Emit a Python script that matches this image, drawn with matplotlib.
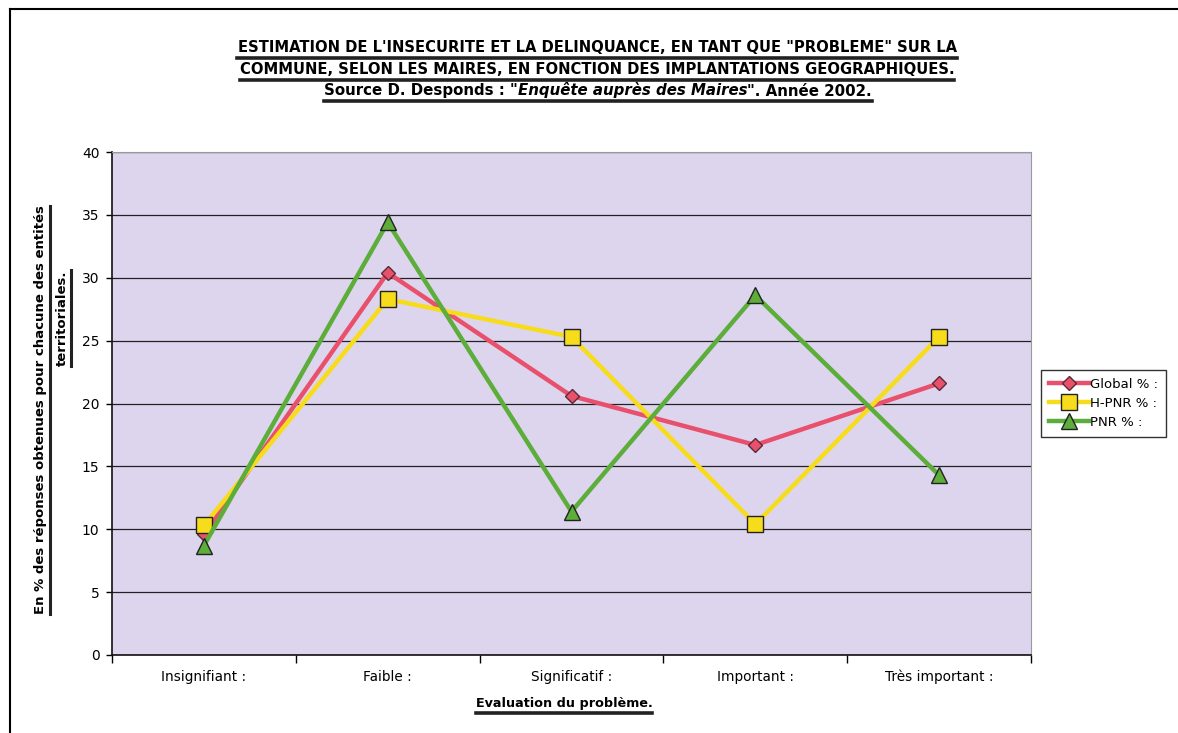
import matplotlib
matplotlib.use("Agg")
import matplotlib.pyplot as plt
from matplotlib.lines import Line2D

# data
categories = ["Insignifiant :", "Faible :", "Significatif :", "Important :", "Très important :"]
global_pct = [9.6, 30.4, 20.6, 16.7, 21.6]
hpnr_pct = [10.3, 28.3, 25.3, 10.4, 25.3]
pnr_pct = [8.7, 34.4, 11.4, 28.6, 14.3]
yticks = [0, 5, 10, 15, 20, 25, 30, 35, 40]

plt.rcParams['font.family'] = ['DejaVu Sans']

fig = plt.figure(figsize=(11.78, 7.33), dpi=100)
W, H = 1178, 733
ax = fig.add_axes([112 / W, 1 - 655 / H, (1031 - 112) / W, (655 - 152) / H])
ax.set_facecolor('#ddd5ee')

x = range(len(categories))
ax.plot(x, global_pct, color='#e8506c', lw=3.2, marker='D', ms=7,
        mfc='#e8506c', mec='#5a2a35', mew=1, label='Global % :')
ax.plot(x, hpnr_pct, color='#f7dc1c', lw=3.2, marker='s', ms=11,
        mfc='#f7dc1c', mec='#222222', mew=1, label='H-PNR % :')
ax.plot(x, pnr_pct, color='#5cad3a', lw=3.2, marker='^', ms=11,
        mfc='#5cad3a', mec='#222222', mew=1, label='PNR % :')

ax.set_xlim(-0.5, len(categories) - 0.5)
ax.set_ylim(0, 40)
ax.set_yticks(yticks)
ax.yaxis.grid(True, color='#222222', lw=0.9)
ax.set_axisbelow(True)
ax.set_xticks(list(x))
ax.set_xticklabels(categories, fontsize=9.8, va='baseline')
ax.set_xticks([i - 0.5 for i in range(len(categories) + 1)], minor=True)
ax.tick_params(axis='x', which='major', length=0, pad=19)
ax.tick_params(axis='x', which='minor', length=6, width=1, direction='out')
ax.tick_params(axis='y', length=4, width=1, direction='out', labelsize=10, pad=5)
for s in ['left', 'bottom']:
    ax.spines[s].set_color('#111111')
    ax.spines[s].set_linewidth(1.2)
for s in ['top', 'right']:
    ax.spines[s].set_color('#9a9a9a')
    ax.spines[s].set_linewidth(0.8)

leg = ax.legend(loc='center left', bbox_to_anchor=(1.004, 0.5), fontsize=9.5,
                frameon=True, fancybox=False, edgecolor='black', handlelength=3.0,
                borderpad=0.6, labelspacing=0.45, handletextpad=0.1)
leg.get_frame().set_linewidth(1.0)

# page frame (left and top edges only)
fig.add_artist(Line2D([10 / W, 10 / W], [0, 1 - 9 / H], color='black', lw=1.5))
fig.add_artist(Line2D([10 / W, 1], [1 - 9 / H, 1 - 9 / H], color='black', lw=1.5))

# titles and labels (baselines placed as in the reference)
t1 = fig.text(597 / W, 1 - 52 / H,
              "ESTIMATION DE L'INSECURITE ET LA DELINQUANCE, EN TANT QUE \"PROBLEME\" SUR LA",
              ha='center', va='baseline', fontsize=10.6, fontweight='bold')
t2 = fig.text(597 / W, 1 - 74.5 / H,
              "COMMUNE, SELON LES MAIRES, EN FONCTION DES IMPLANTATIONS GEOGRAPHIQUES.",
              ha='center', va='baseline', fontsize=10.6, fontweight='bold')
ylab1 = fig.text(41 / W, 1 - 410 / H,
                 "En % des réponses obtenues pour chacune des entités",
                 ha='center', va='center', rotation=90, fontsize=9.5, fontweight='bold')
ylab2 = fig.text(62 / W, 1 - 318 / H, "territoriales.",
                 ha='center', va='center', rotation=90, fontsize=9.5, fontweight='bold')
xlab = fig.text(564 / W, 1 - 707 / H, "Evaluation du problème.",
                ha='center', va='baseline', fontsize=9.2, fontweight='bold')

fig.canvas.draw()
r = fig.canvas.get_renderer()

# source line built from three pieces (middle one in italics)
parts = ["Source D. Desponds : \"", "Enquête auprès des Maires", "\". Année 2002."]
styles = ['normal', 'oblique', 'normal']
widths = []
for p, st in zip(parts, styles):
    tmp = fig.text(0, 0, p, fontsize=10.8, fontweight='bold', style=st)
    widths.append(tmp.get_window_extent(r).width)
    tmp.remove()
x0 = 598 - sum(widths) / 2
src = []
for p, st, w in zip(parts, styles, widths):
    src.append(fig.text(x0 / W, 1 - 95.5 / H, p, ha='left', va='baseline',
                        fontsize=10.8, fontweight='bold', style=st))
    x0 += w
fig.canvas.draw()


def underline(texts, y_px, lw=2.6):
    bbs = [t.get_window_extent(r) for t in texts]
    xa = min(b.x0 for b in bbs)
    xb = max(b.x1 for b in bbs)
    fig.add_artist(Line2D([xa / W, xb / W], [1 - y_px / H, 1 - y_px / H],
                          color='#222222', lw=lw))


def underline_v(t, lw=2.2, gap=2):
    b = t.get_window_extent(r)
    xr = b.x1 + gap
    fig.add_artist(Line2D([xr / W, xr / W], [b.y0 / H, b.y1 / H], color='#222222', lw=lw))


underline([t1], 57.5)
underline([t2], 80)
underline(src, 100.5)
underline([xlab], 712.5)
underline_v(ylab1)
underline_v(ylab2)

fig.savefig('out.png', dpi=100)
